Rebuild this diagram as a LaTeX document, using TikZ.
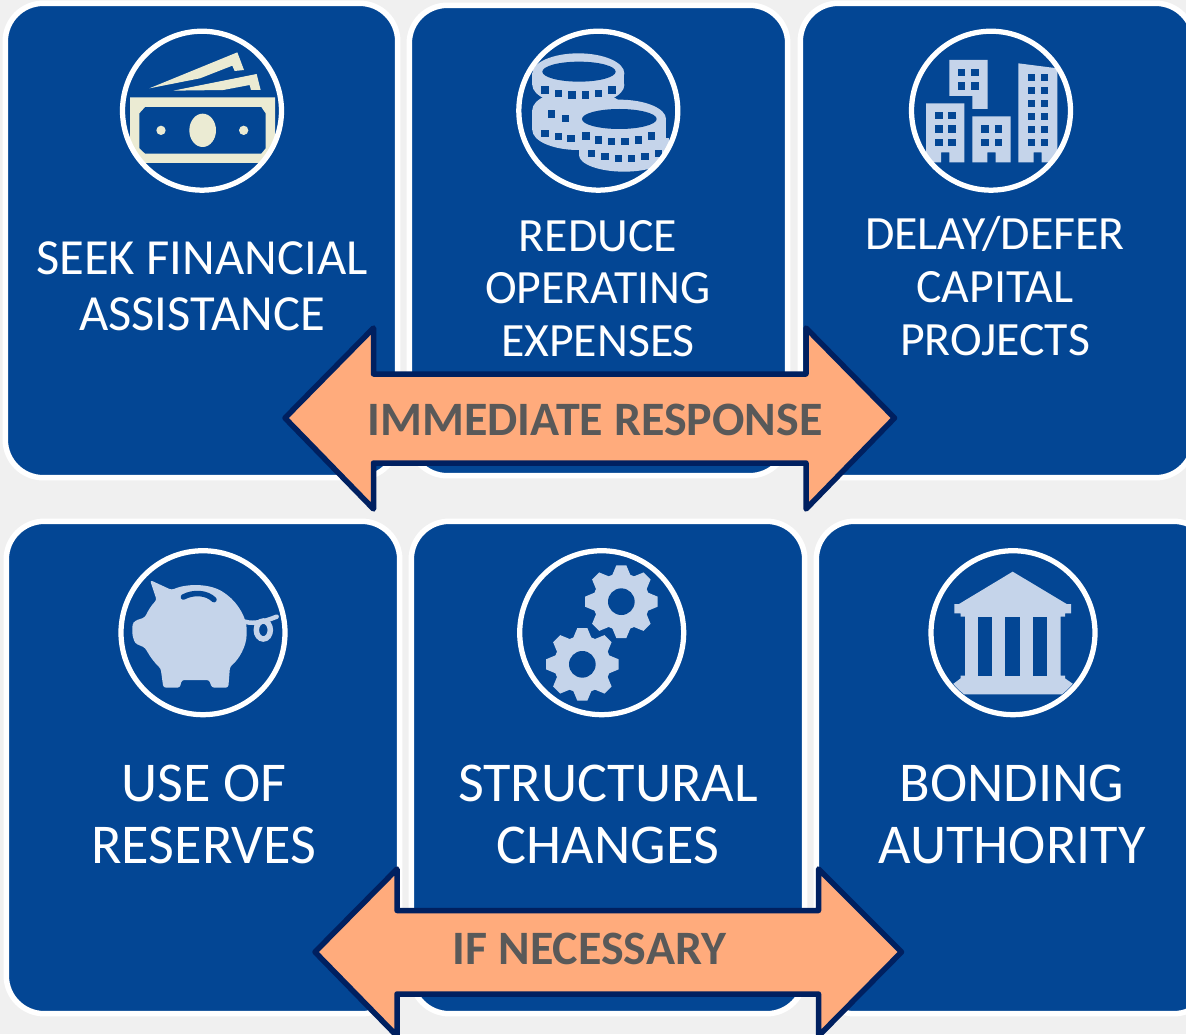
\documentclass[tikz,border=0pt]{standalone}
\usepackage{fontspec}
\setmainfont{Carlito}
\definecolor{cardblue}{HTML}{034694}
\definecolor{iconblue}{HTML}{C5D4EA}
\definecolor{iconcream}{HTML}{EBEBD3}
\definecolor{pagegray}{HTML}{F0F0F0}
\definecolor{bannerpeach}{HTML}{FFAB7C}
\definecolor{bannerline}{HTML}{002060}
\definecolor{bannertext}{HTML}{595959}
\tikzset{
	card/.style={draw=white,line width=0.11cm,fill=cardblue,rounded corners=0.76cm,inner sep=0pt},
	ring/.style={draw=white,line width=0.105cm,circle,inner sep=0pt},
	cardtext/.style={text=white,align=center,inner sep=0pt},
	uptext/.style={cardtext,font=\fontsize{27.2}{30}\selectfont},
	seektext/.style={cardtext,font=\fontsize{28.8}{31.7}\selectfont},
	lowtext/.style={cardtext,font=\fontsize{32}{35}\selectfont},
	banner/.style={fill=bannerpeach,draw=bannerline,line width=0.11cm,line join=round},
	bannerlabel/.style={text=bannertext,inner sep=0pt,font=\fontsize{27.3}{30}\selectfont\bfseries},
}
\begin{document}
\begin{tikzpicture}[x=0.02cm,y=-0.02cm]
	\useasboundingbox (0,0) rectangle (1186,1034);
	\clip (0,0) rectangle (1186,1034);
	\fill[pagegray] (0,0) rectangle (1186,1034);
	\node[card,minimum width=7.85cm,minimum height=9.49cm] (seek) at (201.5,240.5) {};
	\node[card,minimum width=7.57cm,minimum height=9.41cm] (reduce) at (598.5,240.5) {};
	\node[card,minimum width=7.87cm,minimum height=9.49cm] (delay) at (997,240.5) {};
	\node[card,minimum width=7.87cm,minimum height=9.85cm] (reserves) at (203,767.5) {};
	\node[card,minimum width=7.87cm,minimum height=9.85cm] (structural) at (608,767.5) {};
	\node[card,minimum width=7.91cm,minimum height=9.85cm] (bonding) at (1014,767.5) {};
	% money
	\begin{scope}[shift={(100,10)},scale=1/3]
		\clip (306,302) circle (236);
		\fill[iconcream,even odd rule] (90,262) -- (525,262) -- (525,480) -- (90,480) -- cycle
			(135,291) -- (484,291) -- (497,310) -- (497,415) -- (484,431) -- (135,431) -- (118,415) -- (118,310) -- cycle;
		\fill[cardblue] (60,460) rectangle (560,500);
		\fill[iconcream] (148,235) -- (412,127) -- (432,180) -- (404,183) -- (397,167) -- (300,205) -- cycle;
		\fill[iconcream] (220,242) -- (470,192) -- (482,240) -- (453,240) -- (449,225) -- (370,240) -- cycle;
		\fill[iconcream] (308,361) ellipse (40 and 50);
		\fill[iconcream] (183,361) circle (14);
		\fill[iconcream] (431,361) circle (14);
	\end{scope}
	% coins
	\begin{scope}[shift={(500,10)},scale=1/3]
		\clip (295,302) circle (236);
		\fill[iconblue] (235,190) ellipse (138 and 60);
		\fill[iconblue] (235,225) ellipse (138 and 60);
		\fill[iconblue] (97,190) rectangle (373,225);
		\fill[iconblue] (235,300) ellipse (138 and 60);
		\fill[iconblue] (235,360) ellipse (138 and 60);
		\fill[iconblue] (97,300) rectangle (373,360);
		\fill[iconblue] (358,327) ellipse (140 and 58);
		\fill[iconblue] (358,385) ellipse (140 and 58);
		\fill[iconblue] (218,327) rectangle (498,385);
		\fill[iconblue] (372,435) ellipse (135 and 50);
		\fill[iconblue] (237,385) rectangle (507,435);
		\fill[cardblue] (237,185) ellipse (110 and 30);
		\fill[cardblue] (358,327) ellipse (112 and 30);
		\foreach \wx/\wy in {135/240,176/250,216/255,256/255,295/250,336/240,155/312,197/325,135/370,176/380,213/385,
			258/378,295/390,335/395,375/395,415/390,455/378,275/430,315/440,355/445,395/445,435/440,475/430}
			\fill[cardblue] (\wx-11,\wy-11) rectangle (\wx+11,\wy+11);
	\end{scope}
	% buildings
	\begin{scope}[shift={(890,10)},scale=1/3]
		\clip (303,302) circle (236);
		\fill[iconblue] (178,150) -- (293,150) -- (293,297) -- (247,297) -- (247,258) -- (178,258) -- cycle;
		\fill[iconblue] (108,280) -- (223,280) -- (223,457) -- (178,457) -- (178,427) -- (153,427) -- (153,457) -- (108,457) -- cycle;
		\fill[iconblue] (247,319) -- (362,319) -- (362,457) -- (317,457) -- (317,427) -- (292,427) -- (292,457) -- (247,457) -- cycle;
		\fill[iconblue] (385,160) -- (502,175) -- (502,457) -- (455,457) -- (455,427) -- (431,427) -- (431,457) -- (385,457) -- cycle;
		\foreach \wx/\wy in {215/188,255/188,215/228,255/228,147/317,186/317,147/357,186/357,147/397,186/397,
			285/357,325/357,285/397,325/397}
			\fill[cardblue] (\wx-11,\wy-11) rectangle (\wx+11,\wy+11);
		\foreach \wy in {203,242,281,319,358,397}{
			\fill[cardblue] (424-11,\wy-11) rectangle (424+11,\wy+11);
			\fill[cardblue] (463-11,\wy-11) rectangle (463+11,\wy+11);
		}
	\end{scope}
	% piggy
	\begin{scope}[shift={(100,535)},scale=1/3]
		\fill[iconblue,rounded corners=1.5pt] (150,135) -- (215,165) .. controls (260,145) and (330,145) .. (375,175)
			.. controls (415,205) and (440,250) .. (440,290) .. controls (440,335) and (415,375) .. (390,395)
			-- (385,458) -- (335,458) -- (328,435) -- (245,435) -- (240,458) -- (190,458) -- (182,400)
			.. controls (165,385) and (150,365) .. (135,338) -- (105,325) -- (97,300) -- (97,268) -- (105,257) -- (135,247)
			.. controls (145,225) and (155,210) .. (170,195) -- cycle;
		\draw[cardblue,line width=0.11cm,line cap=round] (250,186) .. controls (280,170) and (320,172) .. (342,194);
		\draw[iconblue,line width=0.09cm,line cap=round] (435,260) .. controls (465,270) and (505,255) .. (530,245);
		\draw[iconblue,line width=0.11cm] (490,285) ellipse (21 and 27);
	\end{scope}
	% gears
	\begin{scope}[shift={(505,535)},scale=1/3]
		\foreach \gx/\gy in {349/200,232/388}{
			\fill[iconblue] (\gx,\gy) circle (85);
			\foreach \ga in {0,45,...,315}
				\fill[iconblue,shift={(\gx,\gy)},rotate=\ga] (78,-28) -- (109,-15) -- (109,15) -- (78,28) -- cycle;
			\fill[cardblue] (\gx,\gy) circle (40);
		}
	\end{scope}
	% bank
	\begin{scope}[shift={(915,535)},scale=1/3]
		\clip (294,293) circle (236);
		\fill[iconblue] (293,110) -- (455,207) -- (468,207) -- (468,235) -- (450,235) -- (450,245) -- (437,245) -- (437,422) -- (450,422) -- (450,430)
			-- (500,465) -- (500,478) -- (90,478) -- (90,465) -- (137,430) -- (137,422) -- (150,422) -- (150,245) -- (137,245) -- (137,235)
			-- (118,235) -- (118,207) -- (132,207) -- cycle;
		\fill[cardblue] (188,245) rectangle (232,422);
		\fill[cardblue] (271,245) rectangle (315,422);
		\fill[cardblue] (353,245) rectangle (397,422);
	\end{scope}
	\node[ring,minimum size=3.18cm] (seekring) at (202,110.7) {};
	\node[ring,minimum size=3.18cm] (reducering) at (598.3,110.7) {};
	\node[ring,minimum size=3.18cm] (delayring) at (991,110.7) {};
	\node[ring,minimum size=3.28cm] (reservesring) at (203,632.7) {};
	\node[ring,minimum size=3.28cm] (structuralring) at (601.7,632.7) {};
	\node[ring,minimum size=3.28cm] (bondingring) at (1013,632.7) {};
	\node[seektext] (seeklabel) at (202,286) {SEEK FINANCIAL\\ASSISTANCE};
	\node[uptext] (reducelabel) at (598,288.5) {REDUCE\\OPERATING\\EXPENSES};
	\node[uptext] (delaylabel) at (995,286) {DELAY/DEFER\\CAPITAL\\PROJECTS};
	\node[lowtext] (reserveslabel) at (204,814.5) {USE OF\\RESERVES};
	\node[lowtext] (structurallabel) at (608,814.5) {STRUCTURAL\\CHANGES};
	\node[lowtext] (bondinglabel) at (1012,814.5) {BONDING\\AUTHORITY};
	\draw[banner] (285,418) -- (373.5,328) -- (373.5,374) -- (806,374) -- (806,328) -- (894.5,418) -- (806,509) -- (806,463) -- (373.5,463) -- (373.5,509) -- cycle;
	\node[bannerlabel] (immediate) at (595,420) {IMMEDIATE RESPONSE};
	\draw[banner] (315,952) -- (397,869) -- (397,910.5) -- (818.5,910.5) -- (818.5,869) -- (901.5,952) -- (818.5,1036) -- (818.5,994) -- (397,994) -- (397,1036) -- cycle;
	\node[bannerlabel] (necessary) at (589.5,949) {IF NECESSARY};
\end{tikzpicture}
\end{document}
